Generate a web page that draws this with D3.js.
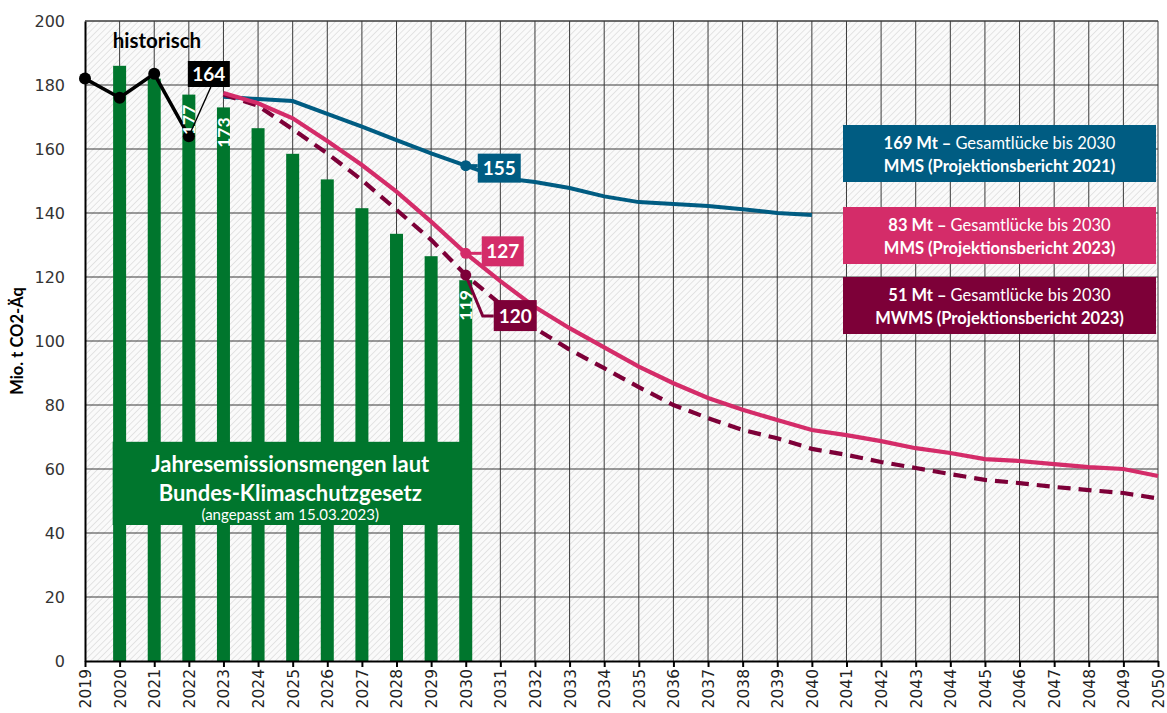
<!DOCTYPE html>
<html><head><meta charset="utf-8">
<script src="https://cdn.jsdelivr.net/npm/d3@7"></script>
<style>
body{margin:0;background:#fff;}
svg{display:block;}
</style></head>
<body><svg id="c" width="1167" height="713"></svg>
<script>
const years = d3.range(2019, 2051);
const yTicks = [0,20,40,60,80,100,120,140,160,180,200];
const histYears = [2019,2020,2021,2022];
const histValues = [182,176,183.5,164];
const ksgYears = [2020,2021,2022,2023,2024,2025,2026,2027,2028,2029,2030];
const ksgValues = [186,182,177,173,166.5,158.5,150.5,141.5,133.5,126.5,119];
const mms21Years = d3.range(2023, 2041);
const mms21Values = [176.3,175.6,175,171,167,162.8,158.6,154.8,151,149.7,147.8,145.2,143.4,142.8,142.2,141.2,140,139.4];
const projYears = d3.range(2023, 2051);
const mms23Values = [177.5,174.3,169.6,162.5,155,146.7,137.3,127.4,118.7,110.6,104,98,92,86.8,82.2,78.5,75.3,72.2,70.6,68.7,66.5,65,63.1,62.5,61.5,60.6,60,57.8];
const mwms23Values = [177,173.5,166.2,158.6,150.3,141,131.6,120.6,111.5,104,97.3,91.5,85.6,80,75.9,72.2,69.6,66.3,64.4,62.2,60.3,58.4,56.6,55.6,54.4,53.4,52.5,50.8];
const barLabels = [{year:2022,text:"177"},{year:2023,text:"173"},{year:2030,text:"119"}];
const legendItems = [
  {bold:"169 Mt \u2013 ", rest:"Gesamtl\u00fccke bis 2030", line2:"MMS (Projektionsbericht 2021)", color:"#005c82"},
  {bold:"83 Mt \u2013 ", rest:"Gesamtl\u00fccke bis 2030", line2:"MMS (Projektionsbericht 2023)", color:"#d42c69"},
  {bold:"51 Mt \u2013 ", rest:"Gesamtl\u00fccke bis 2030", line2:"MWMS (Projektionsbericht 2023)", color:"#7d0038"}
];
const C = {green:"#00762d", blue:"#005c82", pink:"#d42c69", maroon:"#7d0038", black:"#000"};
const FONT = "Lato, 'Open Sans', sans-serif";

const svg = d3.select("#c");
const x = d3.scaleLinear().domain([2019,2050]).range([85,1158]);
const y = d3.scaleLinear().domain([0,200]).range([661,21]);

// hatch pattern
const defs = svg.append("defs");
const pat = defs.append("pattern").attr("id","hatch").attr("patternUnits","userSpaceOnUse")
  .attr("width",4.5).attr("height",4.5).attr("patternTransform","rotate(45)");
pat.append("rect").attr("width",4.5).attr("height",4.5).attr("fill","#fafafa");
pat.append("line").attr("x1",0).attr("y1",0).attr("x2",0).attr("y2",4.5).attr("stroke","#cdcdcd").attr("stroke-width",1);

svg.append("rect").attr("x",x(2019)).attr("y",y(200)).attr("width",x(2050)-x(2019)).attr("height",y(0)-y(200)).attr("fill","url(#hatch)");

// grid
const grid = svg.append("g").attr("stroke","#3a3a3a").attr("stroke-width",1);
grid.selectAll("line.h").data(yTicks.filter(d=>d>0)).join("line")
  .attr("x1",x(2019)).attr("x2",x(2050)).attr("y1",d=>y(d)).attr("y2",d=>y(d));
grid.selectAll("line.v").data(years.filter(d=>d>2019)).join("line")
  .attr("x1",d=>x(d)).attr("x2",d=>x(d)).attr("y1",y(200)).attr("y2",y(0));

// bars
const bw = 13;
svg.append("g").selectAll("rect").data(ksgYears).join("rect")
  .attr("x",(d)=>x(d)-bw/2).attr("width",bw)
  .attr("y",(d,i)=>y(ksgValues[i])).attr("height",(d,i)=>y(0)-y(ksgValues[i]))
  .attr("fill",C.green);

// green text box
const gb = svg.append("g");
gb.append("rect").attr("x",x(2019.8)).attr("y",y(68.5)).attr("width",x(2030)-x(2019.8)+2).attr("height",y(42.5)-y(68.5)).attr("fill",C.green);
const gcx = (x(2019.8)+x(2030)+2)/2;
gb.append("text").attr("x",gcx).attr("y",y(68.5)+30).attr("text-anchor","middle").attr("fill","#fff")
  .attr("font-family",FONT).attr("font-weight","bold").attr("font-size",22).text("Jahresemissionsmengen laut");
gb.append("text").attr("x",gcx).attr("y",y(68.5)+59).attr("text-anchor","middle").attr("fill","#fff")
  .attr("font-family",FONT).attr("font-weight","bold").attr("font-size",22).text("Bundes-Klimaschutzgesetz");
gb.append("text").attr("x",gcx).attr("y",y(68.5)+78).attr("text-anchor","middle").attr("fill","#fff")
  .attr("font-family",FONT).attr("font-size",15).text("(angepasst am 15.03.2023)");

// lines
const line = d3.line().x(d=>x(d[0])).y(d=>y(d[1]));
const mk = (ys,vs)=>ys.map((yy,i)=>[yy,vs[i]]);
svg.append("path").datum(mk(mms21Years,mms21Values)).attr("d",line).attr("fill","none").attr("stroke",C.blue).attr("stroke-width",4);
svg.append("path").datum(mk(projYears,mwms23Values)).attr("d",line).attr("fill","none").attr("stroke",C.maroon).attr("stroke-width",4.2).attr("stroke-dasharray","13,8");
svg.append("path").datum(mk(projYears,mms23Values)).attr("d",line).attr("fill","none").attr("stroke",C.pink).attr("stroke-width",4.2);
svg.append("path").datum(mk(histYears,histValues)).attr("d",line).attr("fill","none").attr("stroke",C.black).attr("stroke-width",3.5);
svg.append("g").selectAll("circle").data(histYears).join("circle")
  .attr("cx",d=>x(d)).attr("cy",(d,i)=>y(histValues[i])).attr("r",6).attr("fill",C.black);

// 2030 markers
const v2030 = (ys,vs)=>vs[ys.indexOf(2030)];
const b30 = v2030(mms21Years,mms21Values), p30 = v2030(projYears,mms23Values), m30 = v2030(projYears,mwms23Values);
[[b30,C.blue],[p30,C.pink],[m30,C.maroon]].forEach(([v,c])=>{
  svg.append("circle").attr("cx",x(2030)).attr("cy",y(v)).attr("r",5.5).attr("fill",c);
});

// bar labels
svg.append("g").selectAll("text").data(barLabels).join("text")
  .attr("transform",d=>`translate(${x(d.year)+6.5},${y(ksgValues[ksgYears.indexOf(d.year)])+10}) rotate(-90)`)
  .attr("text-anchor","end").attr("fill","#fff").attr("font-family",FONT).attr("font-weight","bold").attr("font-size",17.5)
  .text(d=>d.text);

// 164
{
  const px=x(2022), py=y(histValues[3]);
  const bx=x(2022)-1, by=y(187.5);
  svg.append("path").attr("d",`M${px},${py}L${bx+23},${by+26}`).attr("stroke","#000").attr("stroke-width",1.4);
  svg.append("rect").attr("x",bx).attr("y",by).attr("width",42).attr("height",26).attr("fill","#000");
  svg.append("text").attr("x",bx+21).attr("y",by+20).attr("text-anchor","middle").attr("fill","#fff")
    .attr("font-family",FONT).attr("font-weight","bold").attr("font-size",19).text("164");
}
// 155
{
  const px=x(2030), py=y(b30), bx=x(2030)+12, by=y(b30)-12;
  svg.append("path").attr("d",`M${px},${py}H${bx}`).attr("stroke",C.blue).attr("stroke-width",3);
  svg.append("rect").attr("x",bx).attr("y",by).attr("width",43).attr("height",29).attr("fill",C.blue);
  svg.append("text").attr("x",bx+21.5).attr("y",by+21.5).attr("text-anchor","middle").attr("fill","#fff")
    .attr("font-family",FONT).attr("font-weight","bold").attr("font-size",19).text("155");
}
// 127
{
  const px=x(2030), py=y(p30), bx=x(2030)+16, by=y(p30)-17;
  svg.append("path").attr("d",`M${px},${py}H${bx}`).attr("stroke",C.pink).attr("stroke-width",3);
  svg.append("rect").attr("x",bx).attr("y",by).attr("width",42).attr("height",30).attr("fill",C.pink);
  svg.append("text").attr("x",bx+21).attr("y",by+22).attr("text-anchor","middle").attr("fill","#fff")
    .attr("font-family",FONT).attr("font-weight","bold").attr("font-size",19).text("127");
}
// 120
{
  const px=x(2030), py=y(m30), bx=x(2030)+28, by=y(m30)+25;
  svg.append("path").attr("d",`M${px},${py}L${px+17},${by+16}H${bx}`).attr("fill","none").attr("stroke",C.maroon).attr("stroke-width",3);
  svg.append("rect").attr("x",bx).attr("y",by).attr("width",43).attr("height",31).attr("fill",C.maroon);
  svg.append("text").attr("x",bx+21.5).attr("y",by+23).attr("text-anchor","middle").attr("fill","#fff")
    .attr("font-family",FONT).attr("font-weight","bold").attr("font-size",19).text("120");
}

// historisch
svg.append("text").attr("x",x(2019.8)).attr("y",y(191.5)).attr("font-family",FONT).attr("font-weight","bold")
  .attr("font-size",20.5).attr("fill","#000").text("historisch");

// legend boxes
const lg = svg.append("g");
const lx = 843, lw = 313;
const ly = [125, 207, 277];
legendItems.forEach((d,i)=>{
  const g = lg.append("g").attr("transform",`translate(${lx},${ly[i]})`);
  g.append("rect").attr("width",lw).attr("height",57).attr("fill",d.color);
  const t1 = g.append("text").attr("x",lw/2).attr("y",24).attr("text-anchor","middle").attr("fill","#fff")
    .attr("font-family",FONT).attr("font-size",16.5);
  t1.append("tspan").attr("font-weight","bold").text(d.bold);
  t1.append("tspan").text(d.rest);
  g.append("text").attr("x",lw/2).attr("y",47).attr("text-anchor","middle").attr("fill","#fff")
    .attr("font-family",FONT).attr("font-weight","bold").attr("font-size",16.5).text(d.line2);
});

// axes
const xa = svg.append("g").attr("transform",`translate(0,${y(0)})`)
  .call(d3.axisBottom(x).tickValues(years).tickFormat(d3.format("d")).tickSize(6).tickSizeOuter(0));
xa.select(".domain").attr("stroke","#000").attr("stroke-width",2);
xa.selectAll(".tick line").attr("stroke","#000").attr("stroke-width",2);
xa.selectAll(".tick text").attr("transform","rotate(-90)").attr("text-anchor","end")
  .attr("x",-8).attr("y",0).attr("dy","0.35em")
  .attr("font-family","'DejaVu Sans', sans-serif").attr("font-size",15.5).attr("fill","#222");

const ya = svg.append("g").attr("transform",`translate(${x(2019)},0)`)
  .call(d3.axisLeft(y).tickValues(yTicks).tickSize(0).tickPadding(20));
ya.select(".domain").attr("stroke","#000").attr("stroke-width",2);
ya.selectAll(".tick text").attr("font-family","'DejaVu Sans', sans-serif").attr("font-size",16).attr("fill","#333");
svg.append("line").attr("x1",x(2019)).attr("x2",x(2050)).attr("y1",y(200)).attr("y2",y(200)).attr("stroke","#3a3a3a");

svg.append("text").attr("transform",`translate(23,${(y(0)+y(200))/2}) rotate(-90)`).attr("text-anchor","middle")
  .attr("font-family",FONT).attr("font-weight","bold").attr("font-size",16.5).text("Mio. t CO2-\u00c4q");
</script></body></html>
